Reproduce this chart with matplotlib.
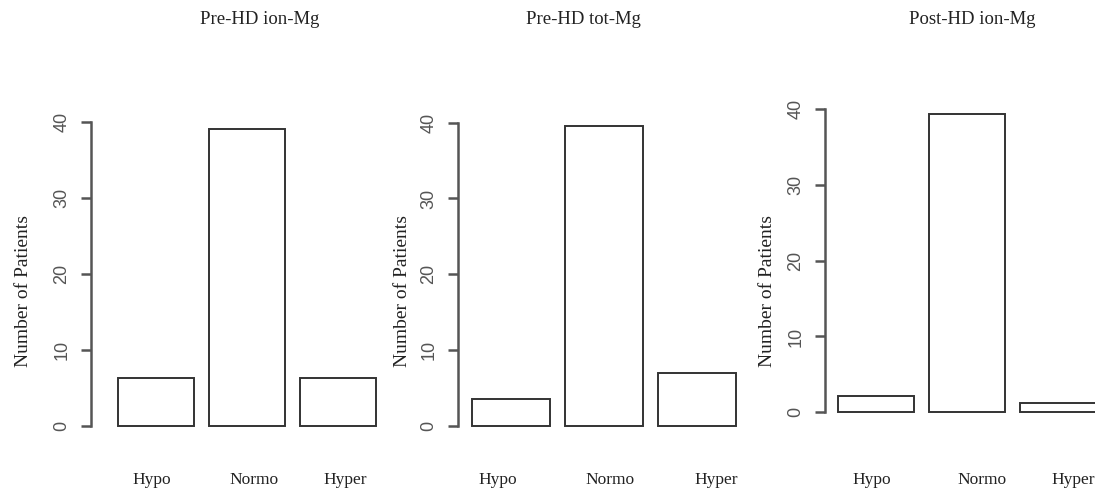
import matplotlib
matplotlib.use('Agg')
import matplotlib.pyplot as plt
import numpy as np

# ---- data ----
categories = ['Hypo', 'Normo', 'Hyper']
pre_ion_mg = [6.3, 39.0, 6.3]
pre_tot_mg = [3.5, 39.6, 7.0]
post_ion_mg = [2.2, 39.3, 1.2]
titles = ['Pre-HD ion-Mg', 'Pre-HD tot-Mg', 'Post-HD ion-Mg']
yticks = [0, 10, 20, 30, 40]

W, H = 1095, 488
fig = plt.figure(figsize=(W / 100, H / 100), dpi=100)

# R barplot style: width 1, space 0.2
centers = 0.7 + 1.2 * np.arange(len(categories))
ylim = (-1, 41)

# per panel layout, calibrated in pixels of the reference
# (axis px, px per x unit, x left limit, y=0 px, y=40 px,
#  label offsets, ylabel px, title centre px)
panels = [
    dict(ax_px=91, ppx=75.8, xmin=-0.156, y0=425.7, y40=121.7,
         lab_off=[-0.05, 0.10, 0.10], ylab_px=22, title_px=260),
    dict(ax_px=458, ppx=77.5, xmin=0.019, y0=425.7, y40=122.7,
         lab_off=[-0.17, 0.08, 0.25], ylab_px=401, title_px=583),
    dict(ax_px=825, ppx=75.8, xmin=0.028, y0=412.3, y40=109.0,
         lab_off=[-0.05, 0.20, 0.20], ylab_px=766, title_px=972),
]
series = [pre_ion_mg, pre_tot_mg, post_ion_mg]

serif = 'Liberation Serif'
sans = 'Liberation Sans'

for vals, title, p in zip(series, titles, panels):
    xmax = 3.65
    ppy = (p['y0'] - p['y40']) / 40.0
    width_px = (xmax - p['xmin']) * p['ppx']
    bottom_px = p['y0'] + (0 - ylim[0]) * ppy
    height_px = (ylim[1] - ylim[0]) * ppy
    ax = fig.add_axes([p['ax_px'] / W, 1 - bottom_px / H,
                       width_px / W, height_px / H])

    ax.bar(centers, vals, width=1.0, color='white',
           edgecolor='#333333', linewidth=1.4)
    ax.set_xlim(p['xmin'], xmax)
    ax.set_ylim(*ylim)

    for s in ['top', 'right', 'bottom']:
        ax.spines[s].set_visible(False)
    ax.spines['left'].set_bounds(0, 40)
    ax.spines['left'].set_color('#555555')
    ax.spines['left'].set_linewidth(1.8)

    ax.set_yticks(yticks)
    ax.set_yticklabels([str(v) for v in yticks], rotation=90, va='center',
                       family=sans, fontsize=13, color='#555555')
    ax.tick_params(axis='y', length=7, width=1.8, color='#555555', pad=8)

    # category labels under the bars
    pad_pt = (472 - bottom_px) * 0.72
    ax.set_xticks(centers + np.array(p['lab_off']))
    ax.set_xticklabels(categories, family=serif, fontsize=12.5, color='#222222')
    ax.tick_params(axis='x', length=0, pad=pad_pt)

    ax.set_ylabel('Number of Patients', family=serif, fontsize=14,
                  color='#222222')
    ax.yaxis.set_label_coords((p['ylab_px'] + 10 - p['ax_px']) / width_px,
                              (bottom_px - 291) / height_px)

    fig.text(p['title_px'] / W, 1 - 19 / H, title, family=serif,
             fontsize=13.5, color='#222222', ha='center', va='center')

fig.savefig('out.png', dpi=100)
